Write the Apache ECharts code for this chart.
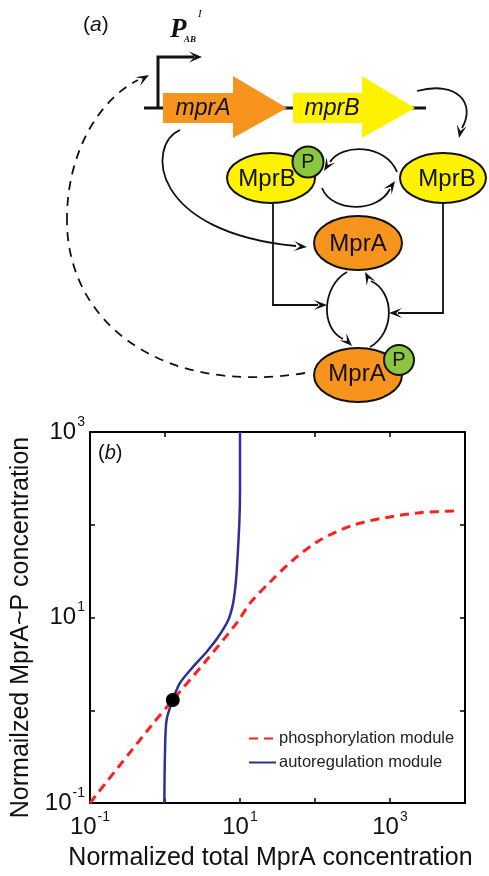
<!DOCTYPE html>
<html>
<head>
<meta charset="utf-8">
<script src="https://cdn.jsdelivr.net/npm/echarts@6/dist/echarts.min.js"></script>
<style>
html,body{margin:0;padding:0;background:#fff;}
#main{width:489px;height:876px;}
</style>
</head>
<body>
<div id="main"></div>
<script>
// ---- data (panel b) ----
const phosX = [0.1, 0.665, 1.27, 3.6, 9.4, 13.6, 25, 51, 117, 321, 912, 2512, 7820];
const phosY = [0.1, 0.69, 1.29, 3.48, 9.1, 14.3, 24, 41.7, 68.5, 99, 120, 135, 141];
const autoX = [0.98, 1.0, 1.05, 1.27, 1.585, 2.38, 3.6, 5.14, 6.98, 8.0, 8.58, 9.0, 9.8, 10, 10];
const autoY = [0.1, 0.346, 0.785, 1.29, 1.97, 2.95, 4.28, 6.2, 9.4, 13.6, 19.8, 30, 105, 235, 1000];
const fixedX = [1.27];
const fixedY = [1.29];
const labeledExponents = [-1, 1, 3];
const seriesNames = ['phosphorylation module', 'autoregulation module'];

const FONT = '"Liberation Sans", Arial, sans-serif';
const SERIF = '"Liberation Serif", "Times New Roman", serif';
const K = '#111';
const ORANGE = '#F7941D', YELLOW = '#FFF200', GREEN = '#8CC63F';

function zip(a, b) { return a.map((v, i) => [v, b[i]]); }

function fmt(v) {
  const e = Math.round(Math.log10(v));
  if (labeledExponents.indexOf(e) < 0) return '';
  return '{n|10}{s|' + e + '}';
}
const richLab = {
  n: {fontSize: 24, lineHeight: 24, fontFamily: FONT, color: K, verticalAlign: 'bottom'},
  s: {fontSize: 14, lineHeight: 14, fontFamily: FONT, color: K, verticalAlign: 'bottom', padding: [0, 0, 15, 1]}
};

// ---- diagram helpers (panel a) ----
function head(x, y, deg, L, W) {
  L = L || 13; W = W || 10;
  const a = deg * Math.PI / 180, c = Math.cos(a), s = Math.sin(a);
  const px = -s, py = c;
  return {type: 'polygon', z: 5, silent: true,
    shape: {points: [[x, y], [x - L * c + W / 2 * px, y - L * s + W / 2 * py],
      [x - 0.55 * L * c, y - 0.55 * L * s], [x - L * c - W / 2 * px, y - L * s - W / 2 * py]]},
    style: {fill: K}};
}
function bez(x1, y1, c1x, c1y, c2x, c2y, x2, y2, dash, w) {
  return {type: 'bezierCurve', z: 1, silent: true,
    shape: {x1: x1, y1: y1, cpx1: c1x, cpy1: c1y, cpx2: c2x, cpy2: c2y, x2: x2, y2: y2},
    style: {stroke: K, lineWidth: w || 1.8, fill: null, lineDash: dash || null}};
}
function pline(pts, w) {
  return {type: 'polyline', z: 1, silent: true, shape: {points: pts},
    style: {stroke: K, lineWidth: w || 1.8, fill: null}};
}
function ell(cx, cy, rx, ry, fill) {
  return {type: 'ellipse', z: 2, silent: true, shape: {cx: cx, cy: cy, rx: rx, ry: ry},
    style: {fill: fill, stroke: K, lineWidth: 2}};
}
function circ(cx, cy, r, fill) {
  return {type: 'circle', z: 3, silent: true, shape: {cx: cx, cy: cy, r: r},
    style: {fill: fill, stroke: K, lineWidth: 2}};
}
function txt(t, x, y, font, z) {
  return {type: 'text', z: z || 4, silent: true,
    style: {text: t, x: x, y: y, font: font, fill: K, textAlign: 'center', textVerticalAlign: 'middle',
      align: 'center', verticalAlign: 'middle'}};
}

const diagram = [
  // "(a)"
  {type: 'text', z: 4, silent: true, style: {text: '({i|a})', x: 83, y: 25, font: '21px ' + FONT, fill: K,
    textVerticalAlign: 'middle', verticalAlign: 'middle',
    rich: {i: {fontStyle: 'italic', fontSize: 21, fontFamily: FONT}}}},
  // promoter label
  {type: 'text', z: 4, silent: true, style: {text: 'P', x: 170, y: 30, font: 'italic bold 27px ' + SERIF, fill: K,
    textVerticalAlign: 'middle', verticalAlign: 'middle'}},
  {type: 'text', z: 4, silent: true, style: {text: 'AB', x: 184, y: 40, font: 'italic bold 9px ' + SERIF, fill: K,
    textVerticalAlign: 'middle', verticalAlign: 'middle'}},
  {type: 'text', z: 4, silent: true, style: {text: 'I', x: 198, y: 14, font: 'italic 11px ' + SERIF, fill: K,
    textVerticalAlign: 'middle', verticalAlign: 'middle'}},
  // promoter arrow + DNA
  pline([[158, 109], [158, 57], [194, 57]], 3),
  head(202, 57, 0, 13, 11),
  pline([[144, 108], [426, 108]], 3),
  // gene arrows
  {type: 'polygon', z: 2, silent: true, shape: {points: [[163, 93], [233, 93], [233, 76], [287, 108], [233, 138], [233, 123], [163, 123]]}, style: {fill: ORANGE}},
  {type: 'polygon', z: 2, silent: true, shape: {points: [[293, 93], [362, 93], [362, 76], [415, 108], [362, 138], [362, 123], [293, 123]]}, style: {fill: YELLOW}},
  txt('mprA', 203, 109, 'italic 23px ' + FONT),
  txt('mprB', 332, 109, 'italic 23px ' + FONT),
  // curved arrow to MprB
  bez(417, 91, 458, 80, 476, 104, 462, 128),
  head(459, 138, 102),
  // MprB~P and MprB
  ell(271, 178, 44, 25, YELLOW),
  txt('MprB', 267, 179, '24px ' + FONT),
  circ(308, 162, 15.5, GREEN),
  txt('P', 308, 162, '20px ' + FONT),
  ell(443, 178, 43, 25, YELLOW),
  txt('MprB', 447, 179, '24px ' + FONT),
  // arcs between MprB
  bez(397, 172, 386, 144, 342, 143, 330, 162),
  head(324, 171, 122),
  bez(322, 188, 332, 213, 378, 213, 390, 189),
  head(395, 181, -55),
  // mprA -> MprA
  bez(180, 130, 146, 145, 150, 232, 296, 246),
  head(307, 247, 4),
  // MprA
  ell(358, 243, 44, 27, ORANGE),
  txt('MprA', 358, 244, '24px ' + FONT),
  // MprA~P
  ell(358, 375, 44, 27, ORANGE),
  txt('MprA', 357, 374, '24px ' + FONT),
  circ(399, 360, 15, GREEN),
  txt('P', 399, 360, '20px ' + FONT),
  // elbow lines
  pline([[273, 204], [273, 305], [318, 305]]),
  head(327, 305, 0),
  pline([[443, 203], [443, 313], [398, 313]]),
  head(389, 313, 180),
  // cycle between MprA and MprA~P
  bez(347, 272, 322, 286, 320, 328, 343, 339),
  head(352, 346, 45),
  bez(370, 347, 395, 333, 395, 292, 371, 281),
  head(365, 272, -118),
  // dashed feedback
  bez(305, 373, 160, 396, 68, 322, 67, 222, [9, 7], 1.8),
  bez(67, 222, 66, 155, 98, 100, 138, 80, [9, 7], 1.8),
  head(149, 75, -30),
  // "(b)"
  {type: 'text', z: 4, silent: true, style: {text: '({i|b})', x: 98, y: 453, font: '20px ' + FONT, fill: K,
    textVerticalAlign: 'middle', verticalAlign: 'middle',
    rich: {i: {fontStyle: 'italic', fontSize: 20, fontFamily: FONT}}}}
];

const chart = echarts.init(document.getElementById('main'), null, {renderer: 'canvas'});
const axisCommon = {
  type: 'log', logBase: 10,
  axisLine: {show: true, onZero: false, lineStyle: {color: '#000', width: 2}},
  axisTick: {show: true, inside: true, length: 5, lineStyle: {color: '#000', width: 1.5}},
  minorTick: {show: false},
  splitLine: {show: false}
};
chart.setOption({
  animation: false,
  backgroundColor: '#fff',
  textStyle: {fontFamily: FONT},
  grid: {left: 90, top: 432, right: 24, bottom: 73, containLabel: false},
  graphic: {elements: diagram},
  legend: {
    data: seriesNames, orient: 'vertical', left: 243, top: 725,
    itemWidth: 27, itemHeight: 14, itemGap: 7,
    itemStyle: {opacity: 0},
    lineStyle: {opacity: 1},
    textStyle: {fontSize: 16.5, color: '#222', fontFamily: FONT, padding: [0, 0, 0, -2]}
  },
  xAxis: [
    Object.assign({}, axisCommon, {
      min: 0.1, max: 10000, position: 'bottom',
      axisLabel: {formatter: fmt, rich: richLab, margin: 12},
      name: 'Normalized total MprA concentration', nameLocation: 'middle', nameGap: 43,
      nameTextStyle: {fontSize: 25, color: K, fontFamily: FONT, padding: [0, 14, 0, 0]}
    }),
    Object.assign({}, axisCommon, {min: 0.1, max: 10000, position: 'top', axisLabel: {show: false}})
  ],
  yAxis: [
    Object.assign({}, axisCommon, {
      min: 0.1, max: 1000, position: 'left',
      axisLabel: {formatter: fmt, rich: richLab, margin: 5},
      name: 'Normailzed MprA~P concentration', nameLocation: 'middle', nameGap: 52,
      nameTextStyle: {fontSize: 25, color: K, fontFamily: FONT, padding: [0, 20, 0, 0]}
    }),
    Object.assign({}, axisCommon, {min: 0.1, max: 1000, position: 'right', axisLabel: {show: false}})
  ],
  series: [
    {name: seriesNames[0], type: 'line', data: zip(phosX, phosY), smooth: 0.3, symbol: 'none',
      lineStyle: {color: '#FF1F1F', width: 3, type: [9, 6]}, itemStyle: {color: '#FF1F1F'}, z: 3},
    {name: seriesNames[1], type: 'line', data: zip(autoX, autoY), smooth: 0.3, symbol: 'none',
      lineStyle: {color: '#2E3192', width: 2.5}, itemStyle: {color: '#2E3192'}, z: 4},
    {name: 'fixed point', type: 'scatter', data: zip(fixedX, fixedY), symbol: 'circle', symbolSize: 14,
      itemStyle: {color: '#000', opacity: 1}, z: 5}
  ]
});
</script>
</body>
</html>
